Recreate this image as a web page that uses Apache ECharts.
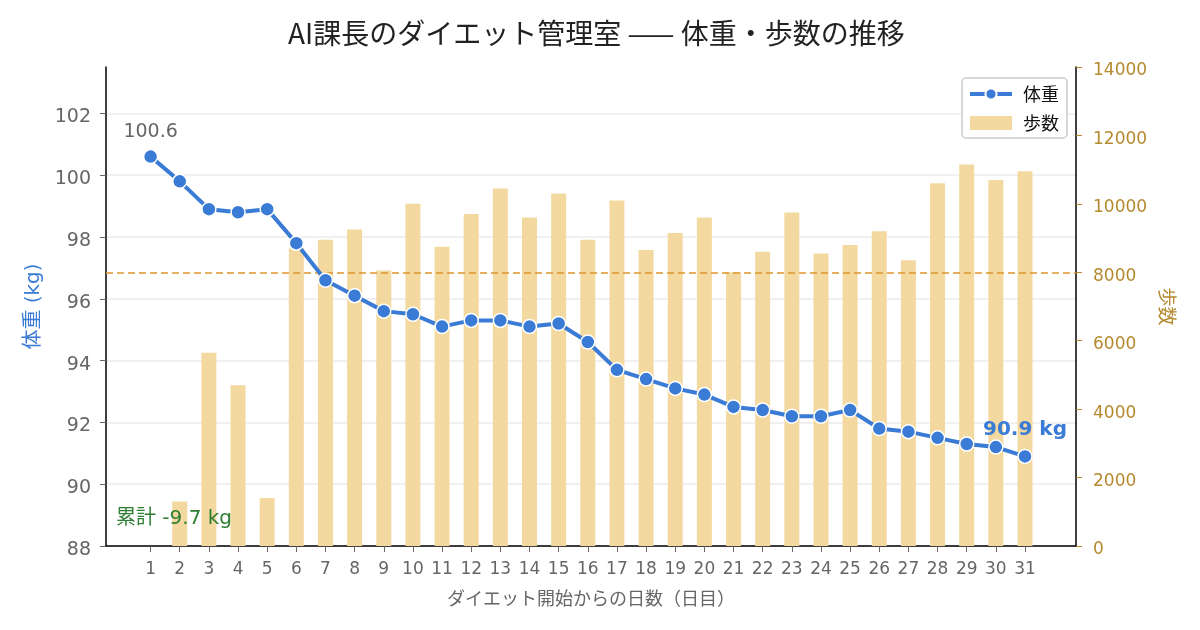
<!DOCTYPE html>
<html>
<head>
<meta charset="utf-8">
<script src="https://cdn.jsdelivr.net/npm/echarts@6/dist/echarts.min.js"></script>
<style>html,body{margin:0;padding:0;background:#fff}#c{width:1200px;height:630px}</style>
</head>
<body>
<div id="c"></div>
<script>
const days = [1,2,3,4,5,6,7,8,9,10,11,12,13,14,15,16,17,18,19,20,21,22,23,24,25,26,27,28,29,30,31];
const weight = [100.6,99.8,98.9,98.8,98.9,97.8,96.6,96.1,95.6,95.5,95.1,95.3,95.3,95.1,95.2,94.6,93.7,93.4,93.1,92.9,92.5,92.4,92.2,92.2,92.4,91.8,91.7,91.5,91.3,91.2,90.9];
const steps = [0,1300,5650,4700,1400,8700,8950,9250,8050,10000,8750,9700,10450,9600,10300,8950,10100,8650,9150,9600,8000,8600,9750,8550,8800,9200,8350,10600,11150,10700,10950];
const stepGoal = 8000;
const weightTicks = [88,90,92,94,96,98,100,102];

const FONT = '"DejaVu Sans", "Noto Sans CJK JP", sans-serif';
const TFONT = '"Noto Sans CJK JP", "Noto Sans", sans-serif';
const BLUE = '#3a7bd5';
const GOLD = '#b5892e';
const total = (weight[weight.length-1] - weight[0]).toFixed(1);

const chart = echarts.init(document.getElementById('c'));
const lineData = days.map((d,i) => {
  const item = {value:[d, weight[i]]};
  if (i === 0) item.label = {show:true, position:'top', distance:7, formatter: String(weight[i].toFixed(1)), color:'#666', fontSize:19, fontFamily:FONT};
  if (i === days.length-1) item.label = {show:true, position:'top', distance:9, formatter: weight[i].toFixed(1)+' kg', color:BLUE, fontSize:20, fontWeight:'bold', fontFamily:FONT, align:'center'};
  return item;
});
chart.setOption({
  backgroundColor:'#fff',
  textStyle:{fontFamily:FONT},
  title:{text:'AI課長のダイエット管理室 —— 体重・歩数の推移', left:283, top:14, textStyle:{fontFamily:TFONT, fontSize:28, fontWeight:'normal', color:'#222'}},
  legend:{
    right:133, top:78, orient:'vertical', itemGap:11, itemWidth:42, itemHeight:14,
    backgroundColor:'#fff', borderColor:'#ccc', borderWidth:1.5, borderRadius:4, padding:[7,8,6,6],
    textStyle:{fontFamily:TFONT, fontSize:18, color:'#111', padding:[0,0,0,6]},
    data:[{name:'体重', lineStyle:{width:4}},{name:'歩数', icon:'rect'}]
  },
  grid:{left:106, right:124, top:67, bottom:84, containLabel:false, outerBoundsMode:'none'},
  xAxis:{
    type:'value', min:-0.53, max:32.75,
    name:'ダイエット開始からの日数（日目）', nameLocation:'middle', nameGap:43,
    nameTextStyle:{fontFamily:TFONT, fontSize:18, color:'#666'},
    axisLine:{show:true, onZero:false, lineStyle:{color:'#000', width:1.5}},
    axisTick:{show:true, customValues:days, length:6, lineStyle:{color:'#666'}},
    axisLabel:{customValues:days, fontSize:17, color:'#666', margin:15, fontFamily:FONT},
    splitLine:{show:false}
  },
  yAxis:[
    {type:'value', min:88, max:103.5, interval:2,
     name:'体重 (kg)', nameLocation:'middle', nameGap:60,
     nameTextStyle:{fontFamily:FONT, fontSize:20, color:BLUE},
     axisLine:{show:true, onZero:false, lineStyle:{color:'#000', width:1.5}},
     axisTick:{show:true, customValues:weightTicks, length:6, lineStyle:{color:'#666'}},
     axisLabel:{customValues:weightTicks, margin:15, formatter: v => '{v|' + v + '}',
       rich:{v:{fontSize:19, color:'#666', fontFamily:FONT, padding:[8,0,0,0]}}},
     splitLine:{show:true, lineStyle:{color:'#ebebeb', width:1.5}}},
    {type:'value', min:0, max:14000, interval:2000, position:'right',
     name:'歩数', nameLocation:'middle', nameGap:82, nameRotate:-90,
     nameTextStyle:{fontFamily:TFONT, fontSize:19, color:GOLD},
     axisLine:{show:true, onZero:false, lineStyle:{color:'#000', width:1.5}},
     axisTick:{show:true, length:6, lineStyle:{color:GOLD}},
     axisLabel:{margin:17, formatter: v => '{v|' + v + '}',
       rich:{v:{fontSize:17, color:GOLD, fontFamily:FONT, padding:[8,0,0,0]}}},
     splitLine:{show:false}}
  ],
  series:[
    {name:'歩数', type:'bar', yAxisIndex:1, barWidth:15, z:1,
     itemStyle:{color:'#f3d9a0'},
     data: days.map((d,i)=>[d, steps[i]]),
     markLine:{silent:true, symbol:'none', label:{show:false},
       lineStyle:{color:'#dc962c', type:[7,4], width:1.6},
       data:[{yAxis:stepGoal}]}},
    {name:'体重', type:'line', yAxisIndex:0, z:5,
     symbol:'circle', symbolSize:14,
     lineStyle:{color:BLUE, width:4},
     itemStyle:{color:BLUE, borderColor:'#fff', borderWidth:1.5},
     data: lineData}
  ],
  graphic:[
    {type:'text', left:116, top:509, z:100, style:{text:'累計 '+total+' kg', fill:'#2e7d32', font:'20px '+FONT}}
  ]
});
</script>
</body>
</html>
